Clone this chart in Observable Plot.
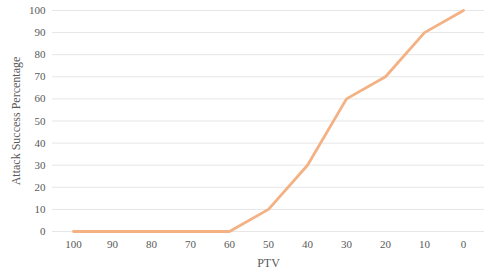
<!DOCTYPE html>
<html><head><meta charset="utf-8">
<script src="https://cdn.jsdelivr.net/npm/d3@7"></script>
<script src="https://cdn.jsdelivr.net/npm/@observablehq/plot@0.6"></script>
<style>body{margin:0;background:#fff}</style>
</head><body><div id="chart"></div>
<script>
const ptv = ["100","90","80","70","60","50","40","30","20","10","0"];
const success = [0,0,0,0,0,10,30,60,70,90,100];
const yTicks = [0,10,20,30,40,50,60,70,80,90,100];
const data = ptv.map((p,i)=>({ptv:p, v:success[i]}));
const font = "'Liberation Serif', 'Times New Roman', serif";
const chart = Plot.plot({
  width: 491, height: 276,
  marginLeft: 52, marginRight: 7, marginTop: 10, marginBottom: 45,
  style: {fontFamily: font, fontSize: "11px", color: "#595959", background: "#fff"},
  x: {type: "point", domain: ptv, padding: 0.5},
  y: {domain: [0,100]},
  marks: [
    Plot.ruleY(yTicks, {stroke: "#e6e6e6", strokeWidth: 1}),
    Plot.axisY(yTicks, {tickSize: 0, tickPadding: 7, label: null, fill: "#595959"}),
    Plot.axisX({tickSize: 0, tickPadding: 9, label: null, fill: "#595959"}),
    Plot.line(data, {x: "ptv", y: "v", stroke: "#F4B183", strokeWidth: 2.8, strokeLinejoin: "miter"}),
    Plot.text(["PTV"], {frameAnchor: "bottom", lineAnchor: "middle", dy: 32, fill: "#595959", fontSize: 12}),
    Plot.text(["Attack Success Percentage"], {frameAnchor: "left", textAnchor: "middle", lineAnchor: "middle", rotate: -90, dx: -36, fill: "#595959", fontSize: 12})
  ]
});
document.getElementById("chart").appendChild(chart);
</script></body></html>
